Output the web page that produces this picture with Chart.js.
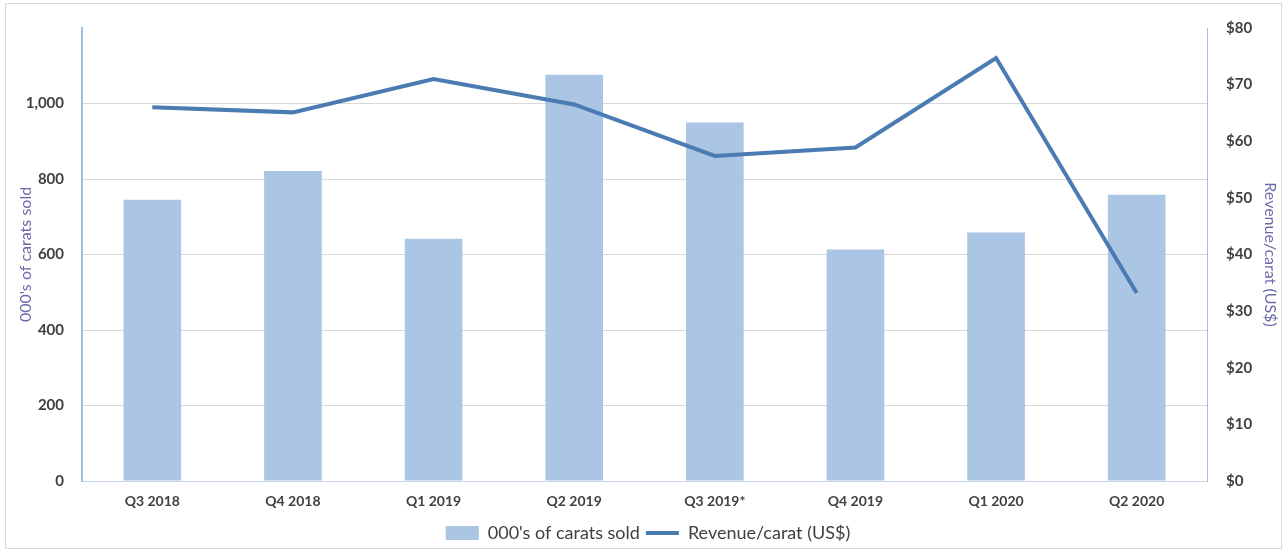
<!DOCTYPE html>
<html>
<head>
<meta charset="utf-8">
<script src="https://cdn.jsdelivr.net/npm/chart.js@4"></script>
<style>
  html, body { margin: 0; padding: 0; background: #fff; }
  #wrap { position: relative; width: 1288px; height: 554px; }
  #frame { position: absolute; left: 5px; top: 3px; width: 1275px; height: 544px; border: 1px solid #d9d9d9; pointer-events: none; }
</style>
</head>
<body>
<div id="wrap">
  <canvas id="chart" width="1288" height="554"></canvas>
  <div id="frame"></div>
</div>
<script>
const quarters = ['Q3 2018', 'Q4 2018', 'Q1 2019', 'Q2 2019', 'Q3 2019*', 'Q4 2019', 'Q1 2020', 'Q2 2020'];
const caratsSold = [745, 821, 642, 1076, 950, 613, 658, 758];
const revenuePerCarat = [66.0, 65.1, 71.0, 66.5, 57.4, 58.9, 74.7, 33.2];

const tickColor = '#404040';
const titleColor = '#6a6aa8';
const font = 'Lato, "Open Sans", sans-serif';

new Chart(document.getElementById('chart'), {
    data: {
        labels: quarters,
        datasets: [
            {
                type: 'line',
                label: 'Revenue/carat (US$)',
                data: revenuePerCarat,
                yAxisID: 'yRight',
                borderColor: '#4a7bb3',
                backgroundColor: '#4a7bb3',
                borderWidth: 4,
                pointRadius: 0,
                tension: 0,
                pointStyle: 'line',
                order: 0
            },
            {
                type: 'bar',
                label: "000's of carats sold",
                data: caratsSold,
                yAxisID: 'yLeft',
                backgroundColor: '#abc5e5',
                categoryPercentage: 1,
                barPercentage: 0.41,
                pointStyle: 'rect',
                order: 1
            }
        ]
    },
    options: {
        responsive: false,
        animation: false,
        layout: { padding: { left: 16, right: 8, top: 21, bottom: 2 } },
        plugins: {
            tooltip: { enabled: false },
            legend: {
                position: 'bottom',
                reverse: true,
                labels: {
                    usePointStyle: true,
                    pointStyleWidth: 33,
                    boxHeight: 14,
                    color: tickColor,
                    font: { family: font, size: 18 },
                    padding: 6
                }
            }
        },
        scales: {
            x: {
                grid: { display: false },
                border: { display: true, color: '#c9d5e6', width: 1 },
                ticks: { color: tickColor, font: { family: font, size: 14, weight: 'bold' }, padding: 4 },
                afterFit: (s) => { s.height = 37; }
            },
            yLeft: {
                position: 'left',
                min: 0,
                max: 1200,
                ticks: {
                    stepSize: 200,
                    color: tickColor,
                    font: { family: font, size: 15, weight: 'bold' },
                    padding: 18,
                    callback: (v) => v === 1200 ? '' : v.toLocaleString('en-US')
                },
                grid: {
                    drawTicks: false,
                    color: (c) => (c.tick && c.tick.value === 1200) ? 'rgba(0,0,0,0)' : '#d9d9d9'
                },
                border: { display: true, color: '#9fc0e4', width: 2 },
                title: { display: true, text: "000's of carats sold", color: titleColor, font: { family: font, size: 16 }, padding: { top: 0, bottom: 0 } },
                afterFit: (s) => { s.width = 66; }
            },
            yRight: {
                position: 'right',
                min: 0,
                max: 80,
                ticks: {
                    stepSize: 10,
                    color: tickColor,
                    font: { family: font, size: 15, weight: 'bold' },
                    padding: 19,
                    callback: (v) => '$' + v
                },
                grid: { display: false, drawTicks: false },
                border: { display: true, color: '#9fc0e4', width: 1 },
                title: { display: true, text: 'Revenue/carat (US$)', color: titleColor, font: { family: font, size: 16 }, padding: { top: 0, bottom: 0 } },
                afterFit: (s) => { s.width = 73; }
            }
        }
    }
});
</script>
</body>
</html>
